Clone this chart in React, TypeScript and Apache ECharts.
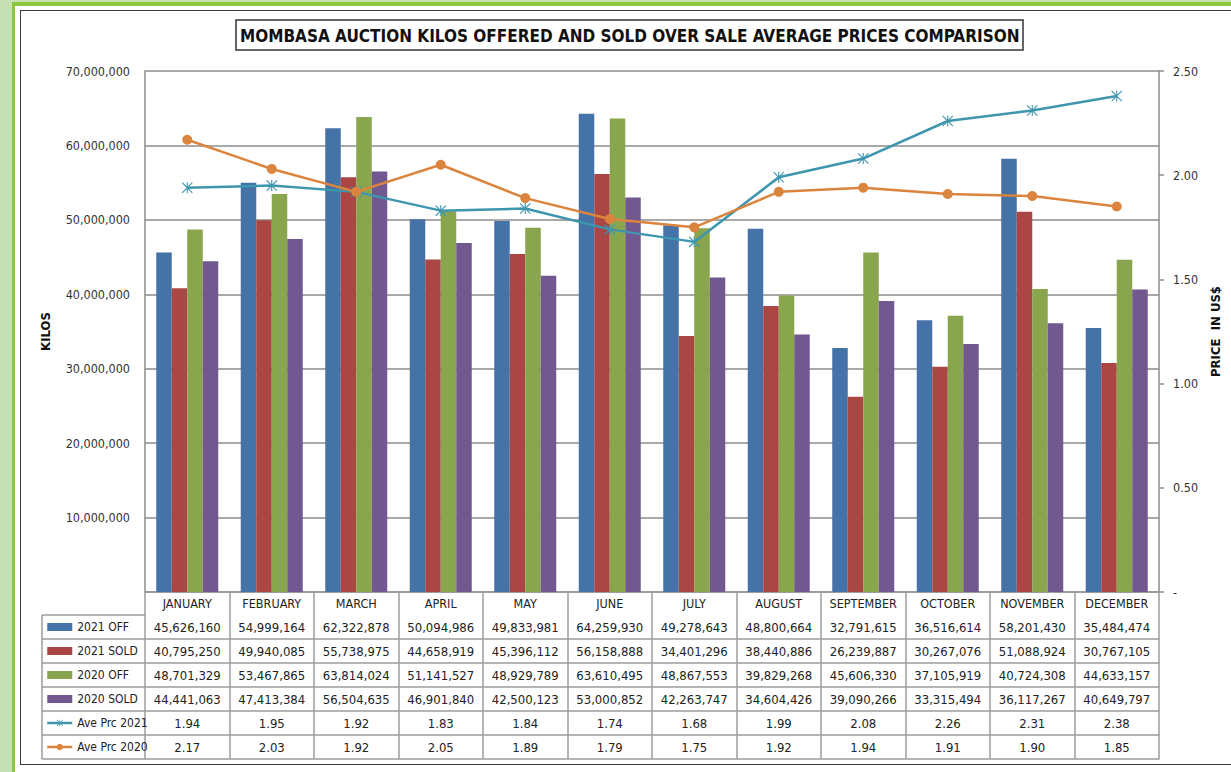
import React, { useEffect, useRef } from "react";
import * as echarts from "echarts";

const months = ["JANUARY", "FEBRUARY", "MARCH", "APRIL", "MAY", "JUNE", "JULY", "AUGUST", "SEPTEMBER", "OCTOBER", "NOVEMBER", "DECEMBER"];
const off2021 = [45626160, 54999164, 62322878, 50094986, 49833981, 64259930, 49278643, 48800664, 32791615, 36516614, 58201430, 35484474];
const sold2021 = [40795250, 49940085, 55738975, 44658919, 45396112, 56158888, 34401296, 38440886, 26239887, 30267076, 51088924, 30767105];
const off2020 = [48701329, 53467865, 63814024, 51141527, 48929789, 63610495, 48867553, 39829268, 45606330, 37105919, 40724308, 44633157];
const sold2020 = [44441063, 47413384, 56504635, 46901840, 42500123, 53000852, 42263747, 34604426, 39090266, 33315494, 36117267, 40649797];
const prc2021 = [1.94, 1.95, 1.92, 1.83, 1.84, 1.74, 1.68, 1.99, 2.08, 2.26, 2.31, 2.38];
const prc2020 = [2.17, 2.03, 1.92, 2.05, 1.89, 1.79, 1.75, 1.92, 1.94, 1.91, 1.9, 1.85];
const kiloTicks = { min: 0, max: 70000000, interval: 10000000 };
const priceTicks = { min: 0, max: 2.5, interval: 0.5 };

const FONT = "'DejaVu Sans Condensed', 'Liberation Sans', sans-serif";
const C = { off21: "#4572A7", sold21: "#AA4643", off20: "#89A54E", sold20: "#71588F", p21: "#3D96AE", p20: "#DB843D" };
const TABLE_LINE = "#9c9c9c";
const STAR = "path://M9 0 H11 V20 H9 Z M1.4 0 L20 18.6 L18.6 20 L0 1.4 Z M18.6 0 L20 1.4 L1.4 20 L0 18.6 Z";

const GRID = { left: 145, right: 72, top: 71, bottom: 180 };
const W = 1231, H = 772;
const HEADER_H = 23, ROW_H = 24;
const LEGEND_X = 42;

const fmt = (v: number) => v.toLocaleString("en-US");

export default function App() {
  const ref = useRef<HTMLDivElement>(null);
  useEffect(() => {
    if (!ref.current) return;
    const chart = echarts.init(ref.current, undefined, { renderer: "svg" });
    const gridBottomY = H - GRID.bottom;
    const rows: string[][] = [
      off2021.map(fmt), sold2021.map(fmt), off2020.map(fmt), sold2020.map(fmt),
      prc2021.map((v) => v.toFixed(2)), prc2020.map((v) => v.toFixed(2)),
    ];
    const tableH = HEADER_H + ROW_H * rows.length;
    const lineStyle = { color: TABLE_LINE, width: 1.5 };
    const labelBase = { interval: 0, margin: 0, fontSize: 13, color: "#222", fontFamily: FONT };

    const xAxes: any[] = [
      {
        type: "category", data: months, position: "bottom", boundaryGap: true,
        axisLine: { show: true, lineStyle },
        axisTick: { show: true, interval: 0, length: tableH, lineStyle },
        axisLabel: { ...labelBase, fontSize: 12.5, lineHeight: HEADER_H },
        splitLine: { show: false },
      },
      ...rows.map((r, i) => ({
        type: "category", data: r, position: "bottom", offset: HEADER_H + ROW_H * i,
        axisLine: { show: true, lineStyle },
        axisTick: { show: false },
        axisLabel: { ...labelBase, lineHeight: ROW_H },
        splitLine: { show: false },
      })),
      {
        type: "category", data: months.map(() => ""), position: "bottom", offset: tableH,
        axisLine: { show: true, lineStyle }, axisTick: { show: false }, axisLabel: { show: false },
      },
    ];

    const legendLines: any[] = [];
    for (let i = 0; i <= rows.length; i++) {
      const y = gridBottomY + HEADER_H + ROW_H * i;
      legendLines.push({ type: "line", shape: { x1: LEGEND_X, y1: y, x2: GRID.left, y2: y }, style: { stroke: TABLE_LINE, lineWidth: 1.5 } });
    }
    legendLines.push({
      type: "line",
      shape: { x1: LEGEND_X, y1: gridBottomY + HEADER_H, x2: LEGEND_X, y2: gridBottomY + tableH },
      style: { stroke: TABLE_LINE, lineWidth: 1.5 },
    });

    const bar = (name: string, data: number[], color: string) => ({
      name, type: "bar", data, barWidth: 15.5, barGap: "0%",
      itemStyle: { color },
    });

    chart.setOption({
      animation: false,
      title: {
        text: "MOMBASA AUCTION KILOS OFFERED AND SOLD OVER SALE AVERAGE PRICES COMPARISON",
        left: 236, top: 20, padding: [7, 4, 6, 4],
        borderColor: "#333", borderWidth: 1.5,
        textStyle: { fontSize: 17, fontWeight: "bold", color: "#111", fontFamily: FONT },
      },
      grid: { ...GRID, containLabel: false },
      legend: {
        orient: "vertical", left: LEGEND_X + 4, top: gridBottomY + HEADER_H, padding: 0, itemGap: 0,
        itemWidth: 25, itemHeight: 8, selectedMode: false,
        lineStyle: { width: 2.5 },
        textStyle: { fontSize: 12, lineHeight: ROW_H, color: "#222", fontFamily: FONT },
        data: [
          { name: "2021 OFF", icon: "rect" }, { name: "2021 SOLD", icon: "rect" },
          { name: "2020 OFF", icon: "rect" }, { name: "2020 SOLD", icon: "rect" },
          { name: "Ave Prc 2021" }, { name: "Ave Prc 2020" },
        ],
      },
      xAxis: xAxes,
      yAxis: [
        {
          type: "value", ...kiloTicks, position: "left",
          name: "KILOS", nameLocation: "middle", nameRotate: 90, nameGap: 93,
          nameTextStyle: { fontSize: 13, fontWeight: "bold", color: "#111", fontFamily: FONT },
          axisLine: { show: true, lineStyle: { color: "#8c8c8c", width: 1.5 } },
          axisTick: { show: false },
          axisLabel: { margin: 15, fontSize: 12.5, color: "#333", fontFamily: FONT, formatter: (v: number) => (v === 0 ? "" : fmt(v)) },
          splitLine: { show: true, lineStyle: { color: "#8c8c8c", width: 1.5 } },
        },
        {
          type: "value", ...priceTicks, position: "right",
          name: "PRICE  IN US$", nameLocation: "middle", nameRotate: 90, nameGap: 42,
          nameTextStyle: { fontSize: 13, fontWeight: "bold", color: "#111", fontFamily: FONT },
          axisLine: { show: true, lineStyle: { color: "#8c8c8c", width: 1.5 } },
          axisTick: { show: true, length: 5, lineStyle: { color: "#8c8c8c", width: 1.5 } },
          axisLabel: { margin: 14, fontSize: 12.5, color: "#333", fontFamily: FONT, formatter: (v: number) => (v === 0 ? "-" : v.toFixed(2)) },
          splitLine: { show: false },
        },
      ],
      series: [
        bar("2021 OFF", off2021, C.off21),
        bar("2021 SOLD", sold2021, C.sold21),
        bar("2020 OFF", off2020, C.off20),
        bar("2020 SOLD", sold2020, C.sold20),
        {
          name: "Ave Prc 2021", type: "line", yAxisIndex: 1, data: prc2021,
          symbol: STAR, symbolSize: 11,
          lineStyle: { color: C.p21, width: 2.5 }, itemStyle: { color: C.p21 },
        },
        {
          name: "Ave Prc 2020", type: "line", yAxisIndex: 1, data: prc2020,
          symbol: "circle", symbolSize: 10,
          lineStyle: { color: C.p20, width: 2.5 }, itemStyle: { color: C.p20 },
        },
      ],
      graphic: legendLines,
    });
    return () => chart.dispose();
  }, []);

  return (
    <div style={{ position: "fixed", left: 0, top: 0, width: W, height: H, background: "#c6e0b4", overflow: "hidden" }}>
      <div style={{ position: "absolute", left: 12, top: 2, right: 0, bottom: 0, background: "#fff", borderLeft: "3px solid #8dc63f", borderTop: "4px solid #8dc63f" }} />
      <div style={{ position: "absolute", left: 20, top: 10, width: 1240, height: 755, border: "1.5px solid #3a3a3a", boxSizing: "border-box" }} />
      <div ref={ref} style={{ position: "absolute", left: 0, top: 0, width: W, height: H }} />
    </div>
  );
}
